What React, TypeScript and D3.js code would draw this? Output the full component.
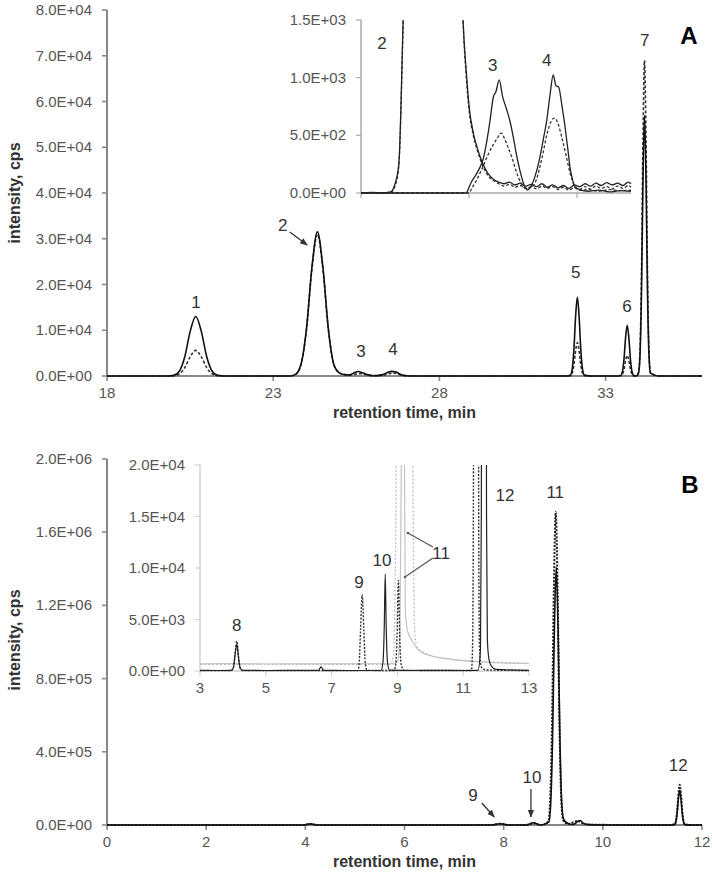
import React from 'react';
import * as d3 from 'd3';

type Pt = [number, number];

// ---------- tick values ----------
const aYTicks = [0, 1e4, 2e4, 3e4, 4e4, 5e4, 6e4, 7e4, 8e4];
const aXTicks = [18, 23, 28, 33];
const aInsetYTicks = [0, 500, 1000, 1500];
const aInsetXTicks = [23, 25, 27];
const bYTicks = [0, 4e5, 8e5, 1.2e6, 1.6e6, 2e6];
const bXTicks = [0, 2, 4, 6, 8, 10, 12];
const bInsetYTicks = [0, 5e3, 1e4, 1.5e4, 2e4];
const bInsetXTicks = [3, 5, 7, 9, 11, 13];

// ---------- panel A, main traces ----------
const aSolid: Pt[] = [
  [18, 0], [19.8, 0],
  [20.01, 143], [20.175, 1040], [20.34, 4225], [20.505, 9815], [20.67, 13000], [20.835, 9815], [21.0, 4225], [21.165, 1040], [21.33, 143], [21.6, 0],
  [23.5, 0], [23.67, 350], [23.835, 2520], [24.0, 10240], [24.165, 23780], [24.33, 31500], [24.495, 23780], [24.66, 10240], [24.825, 2520], [24.99, 700], [25.15, 300],
  [25.3, 250], [25.45, 750], [25.55, 980], [25.7, 660], [25.85, 250], [26.05, 50],
  [26.3, 300], [26.45, 800], [26.56, 1020], [26.7, 850], [26.85, 250], [27.0, 50], [27.3, 0],
  [31.8, 0], [31.94, 190], [31.9925, 1376], [32.045, 5590], [32.0975, 12990], [32.15, 17200], [32.2025, 12990], [32.255, 5590], [32.3075, 1376], [32.36, 190], [32.6, 0],
  [33.3, 0], [33.455, 122], [33.504, 888], [33.5525, 3608], [33.601, 8380], [33.65, 11100], [33.699, 8380], [33.7475, 3608], [33.796, 888], [33.845, 122], [33.92, 0],
  [33.99, 627], [34.035, 4560], [34.08, 18525], [34.125, 43035], [34.17, 57000], [34.215, 43035], [34.26, 18525], [34.305, 4560], [34.35, 627], [34.6, 0], [35.9, 0],
];
const aDashed: Pt[] = [
  [18, 0], [19.8, 0],
  [20.01, 62], [20.175, 448], [20.34, 1820], [20.505, 4228], [20.67, 5600], [20.835, 4228], [21.0, 1820], [21.165, 448], [21.33, 62], [21.6, 0],
  [23.5, 0], [23.67, 341], [23.835, 2480], [24.0, 10075], [24.165, 23405], [24.33, 31000], [24.495, 23405], [24.66, 10075], [24.825, 2480], [24.99, 700], [25.15, 300],
  [25.3, 200], [25.45, 380], [25.62, 510], [25.8, 300], [26.0, 80],
  [26.3, 150], [26.45, 450], [26.6, 650], [26.75, 450], [26.9, 120], [27.2, 30], [27.5, 0],
  [31.8, 0], [31.94, 80], [31.9925, 584], [32.045, 2372], [32.0975, 5512], [32.15, 7300], [32.2025, 5512], [32.255, 2372], [32.3075, 584], [32.36, 80], [32.6, 0],
  [33.3, 0], [33.455, 50], [33.504, 360], [33.5525, 1463], [33.601, 3398], [33.65, 4500], [33.699, 3398], [33.7475, 1463], [33.796, 360], [33.845, 50], [33.92, 0],
  [33.99, 759], [34.035, 5520], [34.08, 22425], [34.125, 52095], [34.17, 69000], [34.215, 52095], [34.26, 22425], [34.305, 5520], [34.35, 759], [34.6, 0], [35.9, 0],
];

// ---------- panel A, inset traces ----------
const aInsetSolid1: Pt[] = [
  [23, 0], [23.2, 5], [23.4, 0], [23.55, 10], [23.63, 80], [23.7, 250], [23.78, 1500], [23.835, 2520], [24.0, 10240], [24.165, 23780], [24.33, 31500],
  [24.495, 23780], [24.66, 10240], [24.825, 2520], [24.89, 1500], [24.95, 1050], [25.0, 760], [25.08, 520], [25.16, 380], [25.25, 260], [25.35, 170],
  [25.45, 120], [25.55, 95], [25.65, 80], [25.75, 95], [25.85, 70], [25.95, 85], [26.05, 60], [26.15, 75], [26.25, 55], [26.35, 80], [26.45, 50],
  [26.55, 70], [26.65, 45], [26.75, 65], [26.85, 40], [26.95, 70], [27.05, 55], [27.15, 80], [27.25, 60], [27.35, 85], [27.45, 65], [27.55, 90],
  [27.65, 70], [27.75, 85], [27.85, 65], [27.95, 95], [28, 80],
];
const aInsetDashed1: Pt[] = [
  [23, 0], [23.55, 5], [23.63, 60], [23.7, 230], [23.78, 1450], [23.835, 2480], [24.0, 10075], [24.165, 23405], [24.33, 31000], [24.495, 23405],
  [24.66, 10075], [24.825, 2480], [24.89, 1480], [24.95, 1000], [25.0, 720], [25.08, 500], [25.16, 360], [25.25, 240], [25.35, 150], [25.45, 110],
  [25.55, 80], [25.65, 60], [25.75, 75], [25.85, 50], [25.95, 65], [26.05, 40], [26.15, 55], [26.25, 35], [26.35, 60], [26.45, 40], [26.55, 55],
  [26.65, 30], [26.75, 50], [26.85, 25], [26.95, 45], [27.05, 30], [27.15, 55], [27.25, 35], [27.35, 60], [27.45, 40], [27.55, 55], [27.65, 35],
  [27.75, 60], [27.85, 40], [27.95, 65], [28, 50],
];
const aInsetSolid2: Pt[] = [
  [23, 0], [24.95, 0], [25.0, 50], [25.05, 100], [25.12, 150], [25.2, 220], [25.26, 290], [25.33, 450], [25.39, 630], [25.45, 830], [25.5, 880],
  [25.56, 980], [25.62, 840], [25.7, 720], [25.76, 620], [25.82, 485], [25.88, 330], [25.94, 200], [26.02, 70], [26.09, 26], [26.15, 60], [26.22, 140],
  [26.3, 280], [26.37, 450], [26.44, 630], [26.5, 850], [26.56, 1023], [26.61, 930], [26.66, 920], [26.72, 760], [26.78, 570], [26.83, 380],
  [26.87, 225], [26.92, 110], [26.96, 52], [27.05, 30], [27.2, 15], [27.4, 25], [27.6, 10], [27.8, 20], [28, 15],
];
const aInsetDashed2: Pt[] = [
  [23, 0], [25.0, 0], [25.05, 40], [25.15, 120], [25.25, 220], [25.35, 330], [25.45, 420], [25.53, 480], [25.6, 520], [25.66, 470], [25.72, 400],
  [25.8, 300], [25.88, 180], [25.96, 90], [26.05, 40], [26.15, 50], [26.25, 120], [26.35, 300], [26.45, 520], [26.52, 620], [26.58, 650], [26.65, 600],
  [26.72, 480], [26.8, 320], [26.88, 160], [26.96, 60], [27.05, 25], [27.2, 30], [27.4, 15], [27.6, 30], [27.8, 20], [28, 25],
];

// ---------- panel B, main traces ----------
const bSolid: Pt[] = [
  [0, 0], [3.95, 0], [4.1, 6000], [4.25, 0], [7.75, 0], [7.93, 7000], [8.1, 0], [8.45, 0], [8.6, 12000], [8.75, 0],
  [8.91, 15510], [8.9475, 112800], [8.985, 458250], [9.0225, 1064550], [9.06, 1410000], [9.0975, 1064550], [9.135, 458250], [9.1725, 112800], [9.21, 30000],
  [9.3, 8000], [9.4, 3000], [9.5, 20000], [9.55, 25000], [9.6, 10000], [9.7, 2000], [10, 0], [11.35, 0],
  [11.445, 2090], [11.471, 15200], [11.4975, 61750], [11.524, 143450], [11.55, 190000], [11.576, 143450], [11.6025, 61750], [11.629, 15200], [11.655, 2090], [11.8, 0], [12, 0],
];
const bDashed: Pt[] = [
  [0, 0], [3.95, 0], [4.1, 6000], [4.25, 0], [7.75, 0], [7.93, 7400], [8.1, 0], [8.45, 0], [8.6, 9000], [8.75, 0],
  [8.9, 18810], [8.9375, 136800], [8.975, 555750], [9.0125, 1291050], [9.05, 1710000], [9.0875, 1291050], [9.125, 555750], [9.1625, 136800], [9.2, 25000],
  [9.3, 6000], [9.5, 22000], [9.6, 8000], [9.8, 1000], [11.3, 0],
  [11.445, 2420], [11.471, 17600], [11.4975, 71500], [11.524, 166100], [11.55, 220000], [11.576, 166100], [11.6025, 71500], [11.629, 17600], [11.655, 2420], [11.8, 0], [12, 0],
];

// ---------- panel B, inset traces ----------
const bInsetSolid: Pt[] = [
  [3, 60], [3.5, 50], [3.95, 60], [4.02, 400], [4.07, 1700], [4.12, 2600], [4.17, 1300], [4.22, 300], [4.3, 60], [5, 50], [6, 60], [6.6, 60], [6.68, 400], [6.76, 60],
  [7.5, 50], [8.5, 50], [8.56, 800], [8.6, 4200], [8.63, 9400], [8.66, 4200], [8.7, 800], [8.76, 80], [9.5, 50], [10, 60], [11, 50], [11.45, 60],
  [11.525, 2090], [11.551, 15200], [11.5775, 61750], [11.604, 143450], [11.63, 190000], [11.656, 143450], [11.6825, 61750], [11.709, 15200], [11.735, 3000],
  [11.78, 1200], [11.85, 500], [12, 150], [13, 60],
];
const bInsetDashed: Pt[] = [
  [3, 40], [3.95, 40], [4.02, 400], [4.07, 1800], [4.12, 2900], [4.17, 1400], [4.22, 300], [4.3, 40], [7.0, 40], [7.8, 40], [7.84, 900], [7.88, 4000],
  [7.93, 7400], [7.98, 4000], [8.02, 900], [8.08, 60], [8.9, 50], [8.95, 700], [8.99, 3500], [9.03, 8800], [9.07, 3500], [9.11, 700], [9.2, 60], [11.25, 50],
  [11.285, 2420], [11.311, 17600], [11.3375, 71500], [11.364, 166100], [11.39, 220000], [11.416, 166100], [11.4425, 71500], [11.469, 17600], [11.495, 2420],
  [11.55, 400], [11.7, 100], [13, 50],
];
const bInsetGraySolid: Pt[] = [
  [3, 700], [4, 720], [5, 680], [6, 700], [7, 690], [8, 710], [8.9, 700], [9.0, 900], [9.08, 4000], [9.13, 25000], [9.17, 60000], [9.21, 25000],
  [9.24, 6000], [9.3, 4000], [9.4, 3200], [9.55, 2400], [9.7, 1900], [10, 1500], [10.5, 1200], [11, 1000], [11.5, 900], [12, 800], [12.5, 760], [13, 720],
];
const bInsetGrayDotted: Pt[] = [
  [3, 650], [5, 660], [7, 640], [8.8, 660], [8.88, 1500], [8.93, 8000], [8.96, 20000], [9.0, 80000], [9.2, 200000], [9.4, 80000], [9.47, 20000],
  [9.5, 8000], [9.53, 3500], [9.6, 2300], [9.8, 1800], [10, 1500], [10.5, 1200], [11, 1000], [12, 850], [13, 750],
];

// ---------- annotations (data coordinates) ----------
const aPeakLabels: [string, number, number][] = [
  ['1', 20.68, 16180], ['2', 23.29, 33000], ['3', 25.64, 5465], ['4', 26.6, 5900], ['5', 32.1, 22735], ['6', 33.64, 15300], ['7', 34.18, 73450],
];
const aInsetLabels: [string, number, number][] = [['2', 23.39, 1300], ['3', 25.44, 1110], ['4', 26.44, 1153]];
const bPeakLabels: [string, number, number][] = [['9', 7.38, 163900], ['10', 8.57, 262300], ['11', 9.04, 1819500], ['12', 11.52, 327800]];
const bInsetLabels: [string, number, number][] = [['8', 4.12, 4466], ['9', 7.83, 8641], ['10', 8.53, 10777], ['11', 10.33, 11456], ['12', 12.27, 17090]];

const FONT = "'Liberation Sans', Arial, Helvetica, sans-serif";

const fmtE = (v: number) => {
  const [m, e] = v.toExponential(1).split('e');
  const sign = e[0] === '-' ? '-' : '+';
  const digits = e.replace(/[+-]/, '').padStart(2, '0');
  return `${m}E${sign}${digits}`;
};

type AxesProps = {
  x: d3.ScaleLinear<number, number>;
  y: d3.ScaleLinear<number, number>;
  xTicks: number[];
  yTicks: number[];
  xLabels: boolean;
  color: string;
  width: number;
  textColor: string;
};

function Axes({ x, y, xTicks, yTicks, xLabels, color, width, textColor }: AxesProps) {
  const [x0, x1] = x.domain();
  const [y0, y1] = y.domain();
  const ax = x(x0);
  const ay = y(y0);
  return (
    <g>
      <line x1={ax} x2={ax} y1={y(y1)} y2={ay} stroke={color} strokeWidth={width} />
      <line x1={ax} x2={x(x1)} y1={ay} y2={ay} stroke={color} strokeWidth={width} />
      {yTicks.map((t) => (
        <g key={'y' + t}>
          <line x1={ax - 5} x2={ax} y1={y(t)} y2={y(t)} stroke={color} strokeWidth={width * 0.8} />
          <text x={ax - 15} y={y(t) + 5} textAnchor="end" fontSize={15} fill={textColor} fontFamily={FONT}>
            {fmtE(t)}
          </text>
        </g>
      ))}
      {xTicks.map((t) => (
        <g key={'x' + t}>
          <line x1={x(t)} x2={x(t)} y1={ay} y2={ay + 5} stroke={color} strokeWidth={width * 0.8} />
          {xLabels && (
            <text x={x(t)} y={ay + 22} textAnchor="middle" fontSize={15} fill={textColor} fontFamily={FONT}>
              {t}
            </text>
          )}
        </g>
      ))}
    </g>
  );
}

function mkLine(x: d3.ScaleLinear<number, number>, y: d3.ScaleLinear<number, number>) {
  return d3
    .line<Pt>()
    .x((d) => x(d[0]))
    .y((d) => y(d[1]))
    .curve(d3.curveMonotoneX);
}

export default function App() {
  // Panel A
  const xA = d3.scaleLinear().domain([18, 35.9]).range([107, 702]);
  const yA = d3.scaleLinear().domain([0, 8e4]).range([376, 10]);
  const xAi = d3.scaleLinear().domain([23, 28]).range([361, 631]);
  const yAi = d3.scaleLinear().domain([0, 1500]).range([193, 20]);
  // Panel B
  const xB = d3.scaleLinear().domain([0, 12]).range([107, 702]);
  const yB = d3.scaleLinear().domain([0, 2e6]).range([825, 459]);
  const xBi = d3.scaleLinear().domain([3, 13]).range([200, 529]);
  const yBi = d3.scaleLinear().domain([0, 2e4]).range([671, 465]);

  const lA = mkLine(xA, yA);
  const lAi = mkLine(xAi, yAi);
  const lB = mkLine(xB, yB);
  const lBi = mkLine(xBi, yBi);

  const lblStyle = { fontFamily: FONT, fontSize: 17, fill: '#333' } as const;

  return (
    <svg width={712} height={873} style={{ position: 'absolute', left: 0, top: 0, background: '#fff' }}>
      <defs>
        <clipPath id="clipAi">
          <rect x={355} y={yAi(1500)} width={290} height={190} />
        </clipPath>
        <clipPath id="clipBi">
          <rect x={195} y={yBi(2e4)} width={345} height={215} />
        </clipPath>
        <marker id="arrow" viewBox="0 0 10 10" refX={9} refY={5} markerWidth={6} markerHeight={6} orient="auto">
          <path d="M0,1 L10,5 L0,9 Z" fill="#333" />
        </marker>
      </defs>

      {/* ===== Panel A ===== */}
      <Axes x={xA} y={yA} xTicks={aXTicks} yTicks={aYTicks} xLabels color="#888" width={2} textColor="#555" />
      <Axes x={xAi} y={yAi} xTicks={aInsetXTicks} yTicks={aInsetYTicks} xLabels={false} color="#aaa" width={1.5} textColor="#555" />

      <path d={lA(aDashed) || ''} fill="none" stroke="#333" strokeWidth={1.6} strokeDasharray="3,2" />
      <path d={lA(aSolid) || ''} fill="none" stroke="#111" strokeWidth={1.6} />

      <g clipPath="url(#clipAi)">
        <path d={lAi(aInsetDashed1) || ''} fill="none" stroke="#333" strokeWidth={1.3} strokeDasharray="3,2" />
        <path d={lAi(aInsetSolid1) || ''} fill="none" stroke="#222" strokeWidth={1.3} />
        <path d={lAi(aInsetDashed2) || ''} fill="none" stroke="#333" strokeWidth={1.3} strokeDasharray="3,2" />
        <path d={lAi(aInsetSolid2) || ''} fill="none" stroke="#222" strokeWidth={1.3} />
      </g>

      {aPeakLabels.map(([s, t, v]) => (
        <text key={'al' + s} x={xA(t)} y={yA(v) + 6} textAnchor="middle" {...lblStyle}>
          {s}
        </text>
      ))}
      {aInsetLabels.map(([s, t, v]) => (
        <text key={'ail' + s} x={xAi(t)} y={yAi(v) + 6} textAnchor="middle" {...lblStyle}>
          {s}
        </text>
      ))}
      <line x1={xA(23.5)} y1={yA(31480)} x2={xA(24.02)} y2={yA(28640)} stroke="#333" strokeWidth={1.3} markerEnd="url(#arrow)" />

      <text x={689} y={44} textAnchor="middle" fontFamily={FONT} fontWeight="bold" fontSize={24} fill="#000">
        A
      </text>
      <text x={(xA(18) + xA(35.9)) / 2} y={418} textAnchor="middle" fontFamily={FONT} fontWeight="bold" fontSize={16} fill="#333">
        retention time, min
      </text>
      <text transform={`translate(20,${193}) rotate(-90)`} textAnchor="middle" fontFamily={FONT} fontWeight="bold" fontSize={16} fill="#333">
        intensity, cps
      </text>

      {/* ===== Panel B ===== */}
      <Axes x={xB} y={yB} xTicks={bXTicks} yTicks={bYTicks} xLabels color="#888" width={2} textColor="#555" />
      <Axes x={xBi} y={yBi} xTicks={bInsetXTicks} yTicks={bInsetYTicks} xLabels color="#ccc" width={1.3} textColor="#555" />

      <path d={lB(bDashed) || ''} fill="none" stroke="#222" strokeWidth={2} strokeDasharray="2,1.5" />
      <path d={lB(bSolid) || ''} fill="none" stroke="#111" strokeWidth={1.6} />

      <g clipPath="url(#clipBi)">
        <path d={lBi(bInsetGraySolid) || ''} fill="none" stroke="#c4c4c4" strokeWidth={1.2} />
        <path d={lBi(bInsetGrayDotted) || ''} fill="none" stroke="#bdbdbd" strokeWidth={1.3} strokeDasharray="2,2" />
        <path d={lBi(bInsetDashed) || ''} fill="none" stroke="#333" strokeWidth={1.4} strokeDasharray="2,1.5" />
        <path d={lBi(bInsetSolid) || ''} fill="none" stroke="#222" strokeWidth={1.2} />
      </g>

      {bPeakLabels.map(([s, t, v]) => (
        <text key={'bl' + s} x={xB(t)} y={yB(v) + 6} textAnchor="middle" {...lblStyle}>
          {s}
        </text>
      ))}
      {bInsetLabels.map(([s, t, v]) => (
        <text key={'bil' + s} x={xBi(t)} y={yBi(v) + 6} textAnchor="middle" {...lblStyle}>
          {s}
        </text>
      ))}
      <line x1={xB(7.56)} y1={yB(120200)} x2={xB(7.81)} y2={yB(43700)} stroke="#333" strokeWidth={1.3} markerEnd="url(#arrow)" />
      <line x1={xB(8.55)} y1={yB(196700)} x2={xB(8.55)} y2={yB(43700)} stroke="#333" strokeWidth={1.3} markerEnd="url(#arrow)" />
      <line x1={xBi(10.08)} y1={yBi(12039)} x2={xBi(9.32)} y2={yBi(13398)} stroke="#555" strokeWidth={1.2} />
      <line x1={xBi(10.08)} y1={yBi(10971)} x2={xBi(9.23)} y2={yBi(9126)} stroke="#555" strokeWidth={1.2} />
      <circle cx={xBi(9.32)} cy={yBi(13398)} r={1.3} fill="#555" />
      <circle cx={xBi(9.23)} cy={yBi(9126)} r={1.3} fill="#555" />

      <text x={690} y={493} textAnchor="middle" fontFamily={FONT} fontWeight="bold" fontSize={24} fill="#000">
        B
      </text>
      <text x={(xB(0) + xB(12)) / 2} y={867} textAnchor="middle" fontFamily={FONT} fontWeight="bold" fontSize={16} fill="#333">
        retention time, min
      </text>
      <text transform={`translate(20,${640}) rotate(-90)`} textAnchor="middle" fontFamily={FONT} fontWeight="bold" fontSize={16} fill="#333">
        intensity, cps
      </text>
    </svg>
  );
}
